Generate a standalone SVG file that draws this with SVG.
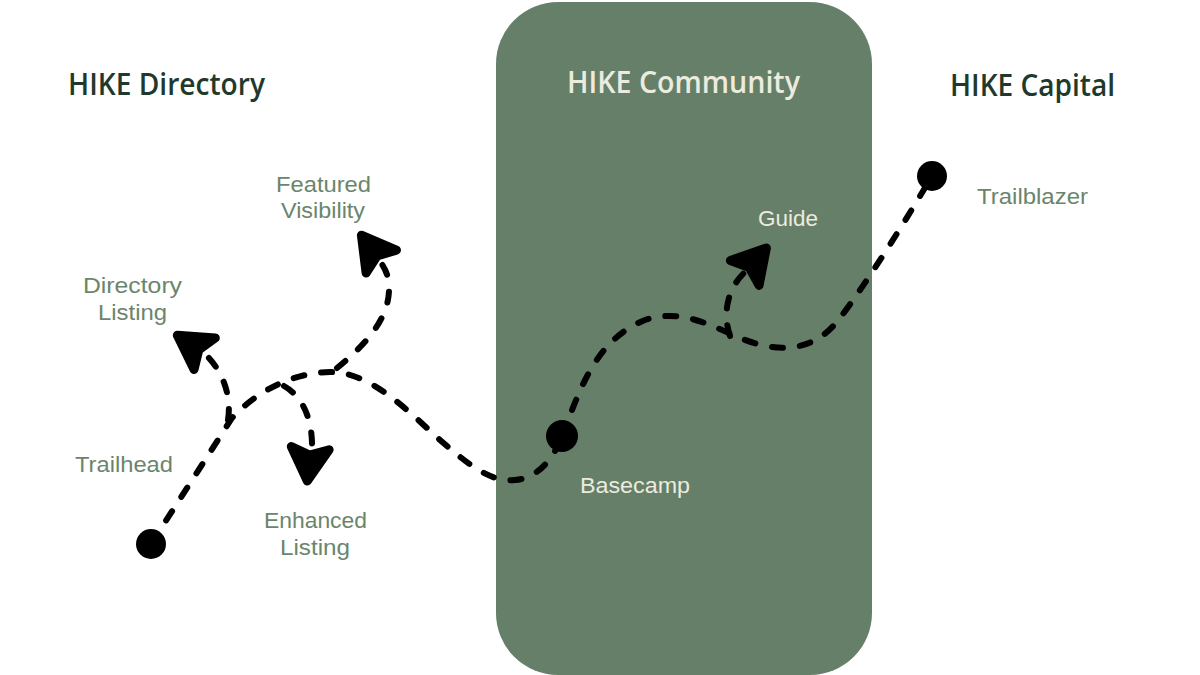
<svg xmlns="http://www.w3.org/2000/svg" xmlns:xlink="http://www.w3.org/1999/xlink" width="1200" height="675" viewBox="0 0 1200 675">
<style>
.hdr{font-family:"Open Sans","Lato","Liberation Sans",sans-serif;font-weight:600;font-size:31px;fill:#1f3a2c}
.hdrc{font-family:"Open Sans","Lato","Liberation Sans",sans-serif;font-weight:600;font-size:31px;fill:#ecebdf}
.lbl{font-family:"Liberation Sans","Open Sans",sans-serif;font-size:22px;fill:#6b856d}
.lblc{font-family:"Liberation Sans","Open Sans",sans-serif;font-size:22px;fill:#ecebdf}
.dash{fill:none;stroke:#000;stroke-width:6;stroke-linecap:round;stroke-dasharray:11 17}
.dot{fill:#000}
.ah{fill:#000;stroke:#000;stroke-width:9;stroke-linejoin:round}
</style>
<defs>
<path id="ah" d="M-4,0 L-37,-19 L-30,0 L-37,19 Z"/>
</defs>
<rect x="0" y="0" width="1200" height="675" fill="#ffffff"/>
<g id="community-zone">
<rect x="496" y="2" width="376" height="673" rx="62" ry="62" fill="#667f68"/>
</g>
<g id="headers">
<text class="hdr" x="68" y="95" textLength="197" lengthAdjust="spacingAndGlyphs">HIKE Directory</text>
<text class="hdrc" x="567" y="93" textLength="233" lengthAdjust="spacingAndGlyphs">HIKE Community</text>
<text class="hdr" x="950" y="96" textLength="165" lengthAdjust="spacingAndGlyphs">HIKE Capital</text>
</g>
<g id="connectors">
<path class="dash" d="M151,544 L232,418 C255,393 290,373 330,372 C370,372 405,408 440,440 C470,466 490,482 515,480 C540,478 555,455 562,436"/>
<path class="dash" d="M562,436 C580,390 595,340 645,320 C680,308 710,325 740,338 C770,350 810,358 840,318 C865,285 900,230 932,176"/>
<path class="dash" d="M228,420 C232,395 222,370 205,354"/>
<path class="dash" d="M337,368 C365,345 395,315 388,278 C386,270 383,265 378,259"/>
<path class="dash" d="M284,386 C300,395 313,415 312,450"/>
<path class="dash" d="M730,336 C722,312 728,288 745,272"/>
<use href="#ah" class="ah" transform="translate(359,232) rotate(-127)"/>
<use href="#ah" class="ah" transform="translate(307,485) rotate(95)"/>
<use href="#ah" class="ah" transform="translate(769,245) rotate(-49)"/>
<use href="#ah" class="ah" transform="translate(174,333) rotate(-146)"/>
</g>
<g id="trailhead">
<circle class="dot" cx="151" cy="544" r="15"/>
<text class="lbl" x="75" y="472" textLength="98" lengthAdjust="spacingAndGlyphs">Trailhead</text>
</g>
<g id="directory-listing">
<text class="lbl"><tspan x="83" y="293" textLength="99" lengthAdjust="spacingAndGlyphs">Directory</tspan><tspan x="98" y="320" textLength="69" lengthAdjust="spacingAndGlyphs">Listing</tspan></text>
</g>
<g id="featured-visibility">
<text class="lbl"><tspan x="276" y="192" textLength="95" lengthAdjust="spacingAndGlyphs">Featured</tspan><tspan x="281" y="218" textLength="84" lengthAdjust="spacingAndGlyphs">Visibility</tspan></text>
</g>
<g id="enhanced-listing">
<text class="lbl"><tspan x="264" y="528" textLength="103" lengthAdjust="spacingAndGlyphs">Enhanced</tspan><tspan x="280" y="555" textLength="70" lengthAdjust="spacingAndGlyphs">Listing</tspan></text>
</g>
<g id="basecamp">
<circle class="dot" cx="562" cy="436" r="16"/>
<text class="lblc" x="580" y="493" textLength="110" lengthAdjust="spacingAndGlyphs">Basecamp</text>
</g>
<g id="guide">
<text class="lblc" x="758" y="226" textLength="60" lengthAdjust="spacingAndGlyphs">Guide</text>
</g>
<g id="trailblazer">
<circle class="dot" cx="932" cy="176" r="15"/>
<text class="lbl" x="977" y="204" textLength="111" lengthAdjust="spacingAndGlyphs">Trailblazer</text>
</g>
</svg>
